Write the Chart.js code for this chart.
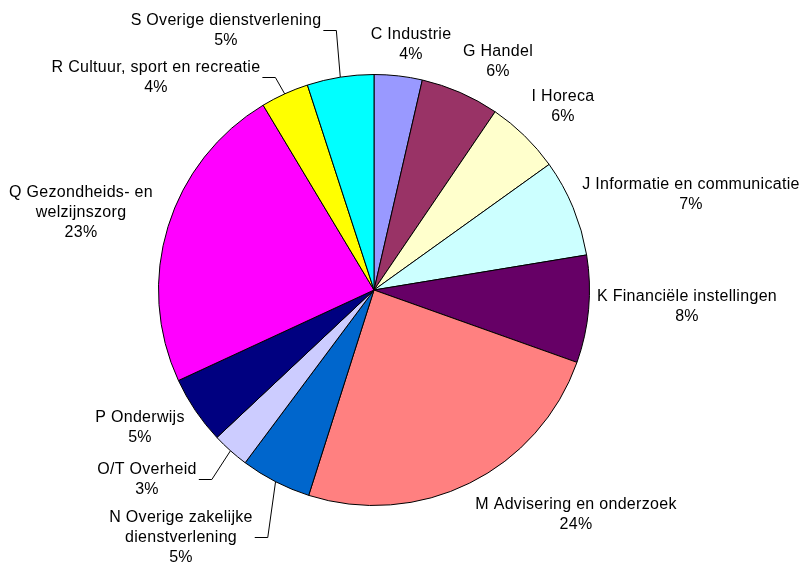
<!DOCTYPE html>
<html>
<head>
<meta charset="utf-8">
<script src="https://cdn.jsdelivr.net/npm/chart.js@4"></script>
<style>
  html, body { margin: 0; padding: 0; background: #fff; }
</style>
</head>
<body>
<canvas id="sectoren" width="806" height="566"></canvas>
<script>
// sectoren (multi-line labels as arrays)
const sectoren = [
  'C Industrie',
  'G Handel',
  'I Horeca',
  'J Informatie en communicatie',
  'K Financiële instellingen',
  'M Advisering en onderzoek',
  ['N Overige zakelijke', 'dienstverlening'],
  'O/T Overheid',
  'P Onderwijs',
  ['Q Gezondheids- en', 'welzijnszorg'],
  'R Cultuur, sport en recreatie',
  'S Overige dienstverlening'
];

// aandeel per sector (%)
const aandeel = [3.6, 5.9, 5.6, 7.3, 8.05, 24.45, 5.3, 2.8, 5.1, 23.3, 3.6, 5.0];

const kleuren = [
  '#9999FF', '#993366', '#FFFFCC', '#CCFFFF', '#660066', '#FF8080',
  '#0066CC', '#CCCCFF', '#000080', '#FF00FF', '#FFFF00', '#00FFFF'
];

// where each label block sits, relative to the pie centre (first baseline, centred)
const labelPlaats = [
  { dx: 37,   dy: -251 },
  { dx: 124,  dy: -234 },
  { dx: 189,  dy: -189 },
  { dx: 317,  dy: -101 },
  { dx: 313,  dy: 11 },
  { dx: 202,  dy: 219 },
  { dx: -193, dy: 232, leader: true },
  { dx: -227, dy: 184, leader: true },
  { dx: -234, dy: 132 },
  { dx: -293, dy: -93 },
  { dx: -218, dy: -218, leader: true },
  { dx: -148, dy: -265, leader: true }
];

const pieLabels = {
  id: 'pieLabels',
  afterDatasetsDraw(chart, args, opts) {
    const ctx = chart.ctx;
    const meta = chart.getDatasetMeta(0);
    const values = chart.data.datasets[0].data;
    const total = values.reduce((a, b) => a + b, 0);

    ctx.save();
    ctx.font = '16px "Liberation Sans", Arial, sans-serif';
    ctx.letterSpacing = '0.3px';
    ctx.fillStyle = '#000';
    ctx.strokeStyle = '#000';
    ctx.lineWidth = 1;
    ctx.textAlign = 'center';
    ctx.textBaseline = 'alphabetic';

    meta.data.forEach((arc, i) => {
      const pos = opts.positions[i];
      const lbl = chart.data.labels[i];
      const lines = Array.isArray(lbl) ? lbl.slice() : [lbl];
      lines.push(Math.round(values[i] / total * 100) + '%');

      const x = arc.x + pos.dx;
      const y0 = arc.y + pos.dy;
      lines.forEach((t, k) => ctx.fillText(t, x, y0 + k * opts.lineHeight));

      if (pos.leader) {
        const w = Math.max(...lines.map(t => ctx.measureText(t).width));
        const mid = (arc.startAngle + arc.endAngle) / 2;
        const ex = arc.x + Math.cos(mid) * arc.outerRadius;
        const ey = arc.y + Math.sin(mid) * arc.outerRadius;
        const ym = Math.round(y0 + (lines.length - 1) * opts.lineHeight / 2 - 5) + 0.5;
        const x0 = x + w / 2 + 2;
        ctx.beginPath();
        ctx.moveTo(x0, ym);
        ctx.lineTo(x0 + 13, ym);
        ctx.lineTo(ex, ey);
        ctx.stroke();
      }
    });
    ctx.restore();
  }
};

new Chart(document.getElementById('sectoren'), {
  type: 'pie',
  data: {
    labels: sectoren,
    datasets: [{
      data: aandeel,
      backgroundColor: kleuren,
      borderColor: '#000',
      borderWidth: 1
    }]
  },
  options: {
    responsive: false,
    animation: false,
    layout: { padding: { left: 158, right: 216, top: 74, bottom: 60 } },
    plugins: {
      legend: { display: false },
      tooltip: { enabled: false },
      pieLabels: { positions: labelPlaats, lineHeight: 20 }
    }
  },
  plugins: [pieLabels]
});
</script>
</body>
</html>
